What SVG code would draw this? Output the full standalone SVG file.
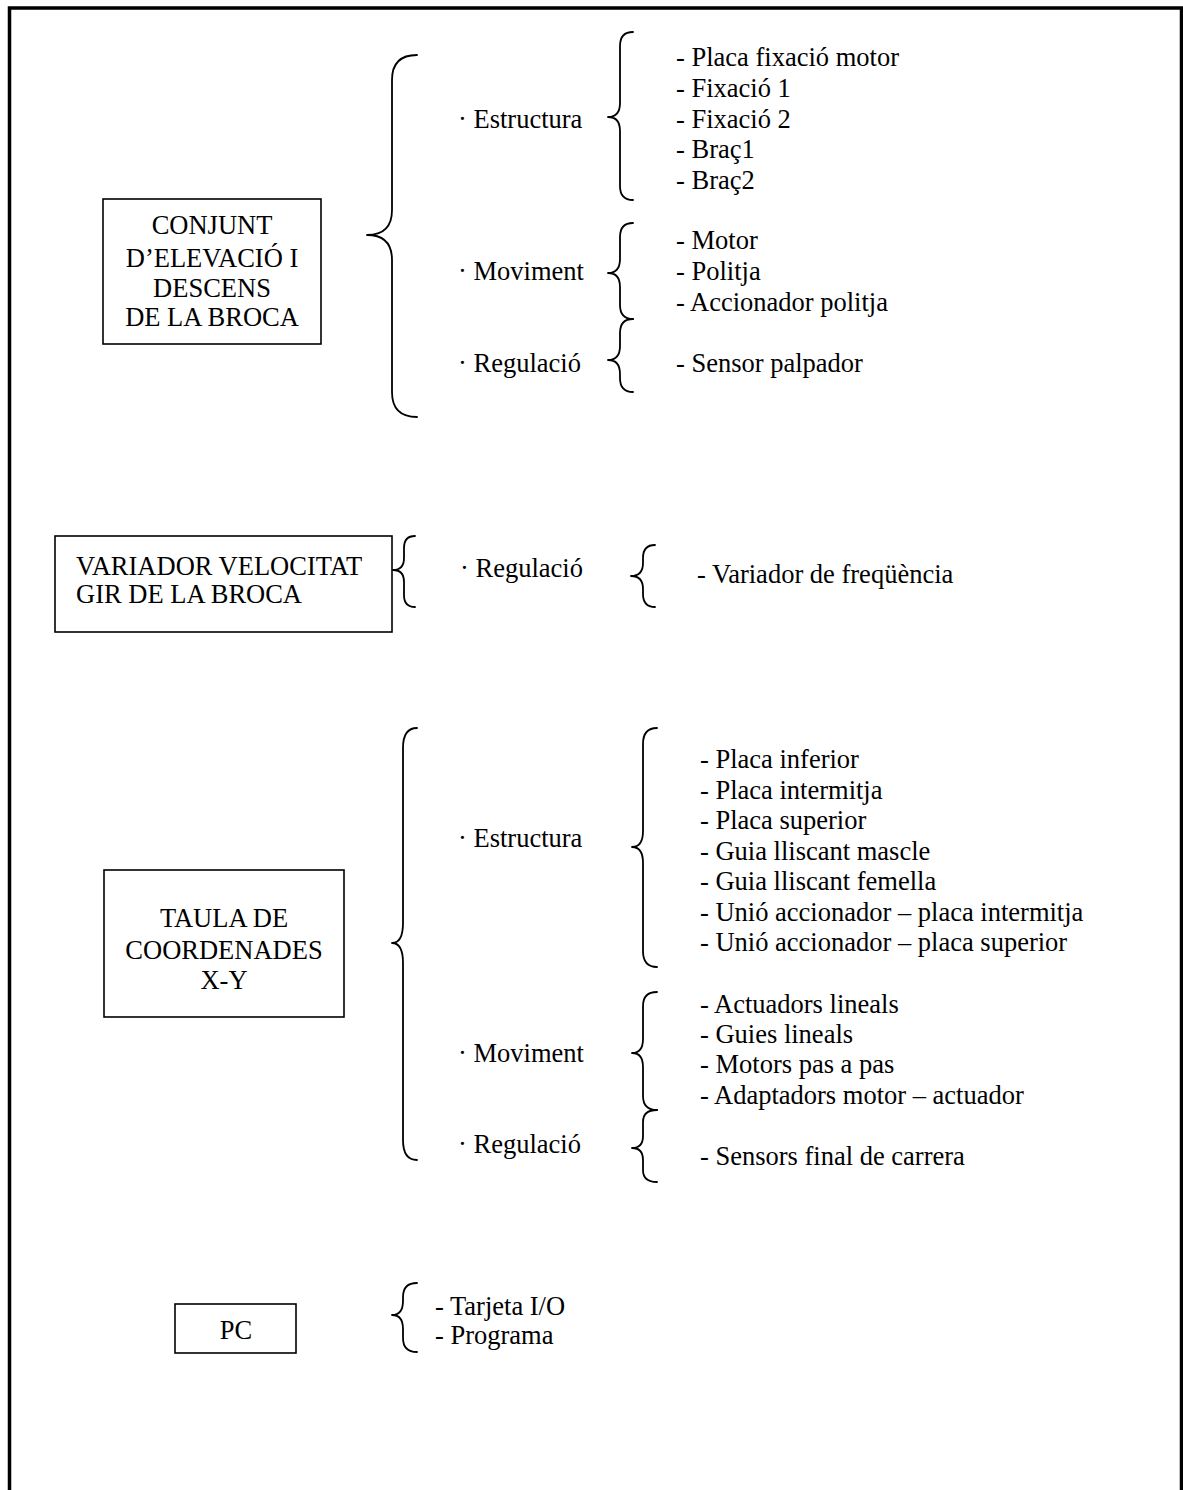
<svg xmlns="http://www.w3.org/2000/svg" width="1183" height="1490" viewBox="0 0 1183 1490">
  <style>
    .t { font-family: "Liberation Serif", "Times New Roman", serif; font-size: 26.5px; fill: #000; }
    .c { text-anchor: middle; }
    .box { fill: #fff; stroke: #000; stroke-width: 1.6; }
    .brace { fill: none; stroke: #000; stroke-width: 1.8; stroke-linecap: round; stroke-linejoin: round; }
  </style>

  <rect width="1183" height="1490" fill="#fff"/>
  <!-- page frame: open at the bottom -->
  <path d="M9.5,1492 V8 H1181.5 V1492" fill="none" stroke="#000" stroke-width="3.5"/>

  <!-- curly braces -->
  <g id="connectors">
    <!-- section 1 -->
    <path class="brace" d="M417,55 Q392,55 392,80 L392,210 Q392,235 367,235 Q392,235 392,260 L392,392 Q392,417 417,417"/>
    <path class="brace" d="M633,32 Q620,32 620,46 L620,103 Q620,117 608,117 Q620,117 620,131 L620,186 Q620,200 633,200"/>
    <path class="brace" d="M633,223 Q620,223 620,237 L620,259 Q620,273 608,273 Q620,273 620,287 L620,305 Q620,319 633,319"/>
    <path class="brace" d="M633,319 Q620,319 620,333 L620,346 Q620,360 608,360 Q620,360 620,374 L620,378 Q620,392 633,392"/>
    <!-- section 2 -->
    <path class="brace" d="M415,536 Q404,536 404,548 L404,558 Q404,570 393,570 Q404,570 404,582 L404,595 Q404,607 415,607"/>
    <path class="brace" d="M655,545 Q643,545 643,558 L643,563 Q643,576 631,576 Q643,576 643,589 L643,594 Q643,607 655,607"/>
    <!-- section 3 -->
    <path class="brace" d="M417,728 Q403,728 403,748 L403,923 Q403,943 392,943 Q403,943 403,963 L403,1140 Q403,1160 417,1160"/>
    <path class="brace" d="M657,728 Q643,728 643,744 L643,831 Q643,847 632,847 Q643,847 643,863 L643,951 Q643,967 657,967"/>
    <path class="brace" d="M657,992 Q643,992 643,1006 L643,1039 Q643,1053 632,1053 Q643,1053 643,1067 L643,1096 Q643,1110 657,1110"/>
    <path class="brace" d="M657,1110 Q643,1110 643,1122 L643,1136 Q643,1148 632,1148 Q643,1148 643,1160 L643,1170 Q643,1182 657,1182"/>
    <!-- section 4 -->
    <path class="brace" d="M417,1283 Q403,1283 403,1297 L403,1301 Q403,1315 392,1315 Q403,1315 403,1329 L403,1338 Q403,1352 417,1352"/>
  </g>

  <!-- lifting / lowering assembly -->
  <g id="node-conjunt">
    <rect class="box" x="103" y="199" width="218" height="145"/>
    <text class="t c" x="212" y="234">CONJUNT</text>
    <text class="t c" x="212" y="267">D’ELEVACIÓ I</text>
    <text class="t c" x="212" y="297">DESCENS</text>
    <text class="t c" x="212" y="326">DE LA BROCA</text>
  </g>
  <g id="node-conjunt-items">
    <text class="t" x="458" y="128">· Estructura</text>
    <text class="t" x="458" y="280">· Moviment</text>
    <text class="t" x="458" y="372">· Regulació</text>
    <text class="t" x="676" y="66">- Placa fixació motor</text>
    <text class="t" x="676" y="97">- Fixació 1</text>
    <text class="t" x="676" y="128">- Fixació 2</text>
    <text class="t" x="676" y="158">- Braç1</text>
    <text class="t" x="676" y="189">- Braç2</text>
    <text class="t" x="676" y="249">- Motor</text>
    <text class="t" x="676" y="280">- Politja</text>
    <text class="t" x="676" y="311">- Accionador politja</text>
    <text class="t" x="676" y="372">- Sensor palpador</text>
  </g>

  <!-- drill speed variator -->
  <g id="node-variador">
    <rect class="box" x="55" y="536" width="337" height="96"/>
    <text class="t" x="76" y="575">VARIADOR VELOCITAT</text>
    <text class="t" x="76" y="603">GIR DE LA BROCA</text>
  </g>
  <g id="node-variador-items">
    <text class="t" x="460" y="577">· Regulació</text>
    <text class="t" x="697" y="583">- Variador de freqüència</text>
  </g>

  <!-- X-Y coordinate table -->
  <g id="node-taula">
    <rect class="box" x="104" y="870" width="240" height="147"/>
    <text class="t c" x="224" y="927">TAULA DE</text>
    <text class="t c" x="224" y="959">COORDENADES</text>
    <text class="t c" x="224" y="989">X-Y</text>
  </g>
  <g id="node-taula-items">
    <text class="t" x="458" y="847">· Estructura</text>
    <text class="t" x="458" y="1062">· Moviment</text>
    <text class="t" x="458" y="1153">· Regulació</text>
    <text class="t" x="700" y="768">- Placa inferior</text>
    <text class="t" x="700" y="799">- Placa intermitja</text>
    <text class="t" x="700" y="829">- Placa superior</text>
    <text class="t" x="700" y="860">- Guia lliscant mascle</text>
    <text class="t" x="700" y="890">- Guia lliscant femella</text>
    <text class="t" x="700" y="921">- Unió accionador – placa intermitja</text>
    <text class="t" x="700" y="951">- Unió accionador – placa superior</text>
    <text class="t" x="700" y="1013">- Actuadors lineals</text>
    <text class="t" x="700" y="1043">- Guies lineals</text>
    <text class="t" x="700" y="1073">- Motors pas a pas</text>
    <text class="t" x="700" y="1104">- Adaptadors motor – actuador</text>
    <text class="t" x="700" y="1165">- Sensors final de carrera</text>
  </g>

  <!-- PC -->
  <g id="node-pc">
    <rect class="box" x="175" y="1304" width="121" height="49"/>
    <text class="t c" x="236" y="1339">PC</text>
  </g>
  <g id="node-pc-items">
    <text class="t" x="435" y="1315">- Tarjeta I/O</text>
    <text class="t" x="435" y="1344">- Programa</text>
  </g>
</svg>
